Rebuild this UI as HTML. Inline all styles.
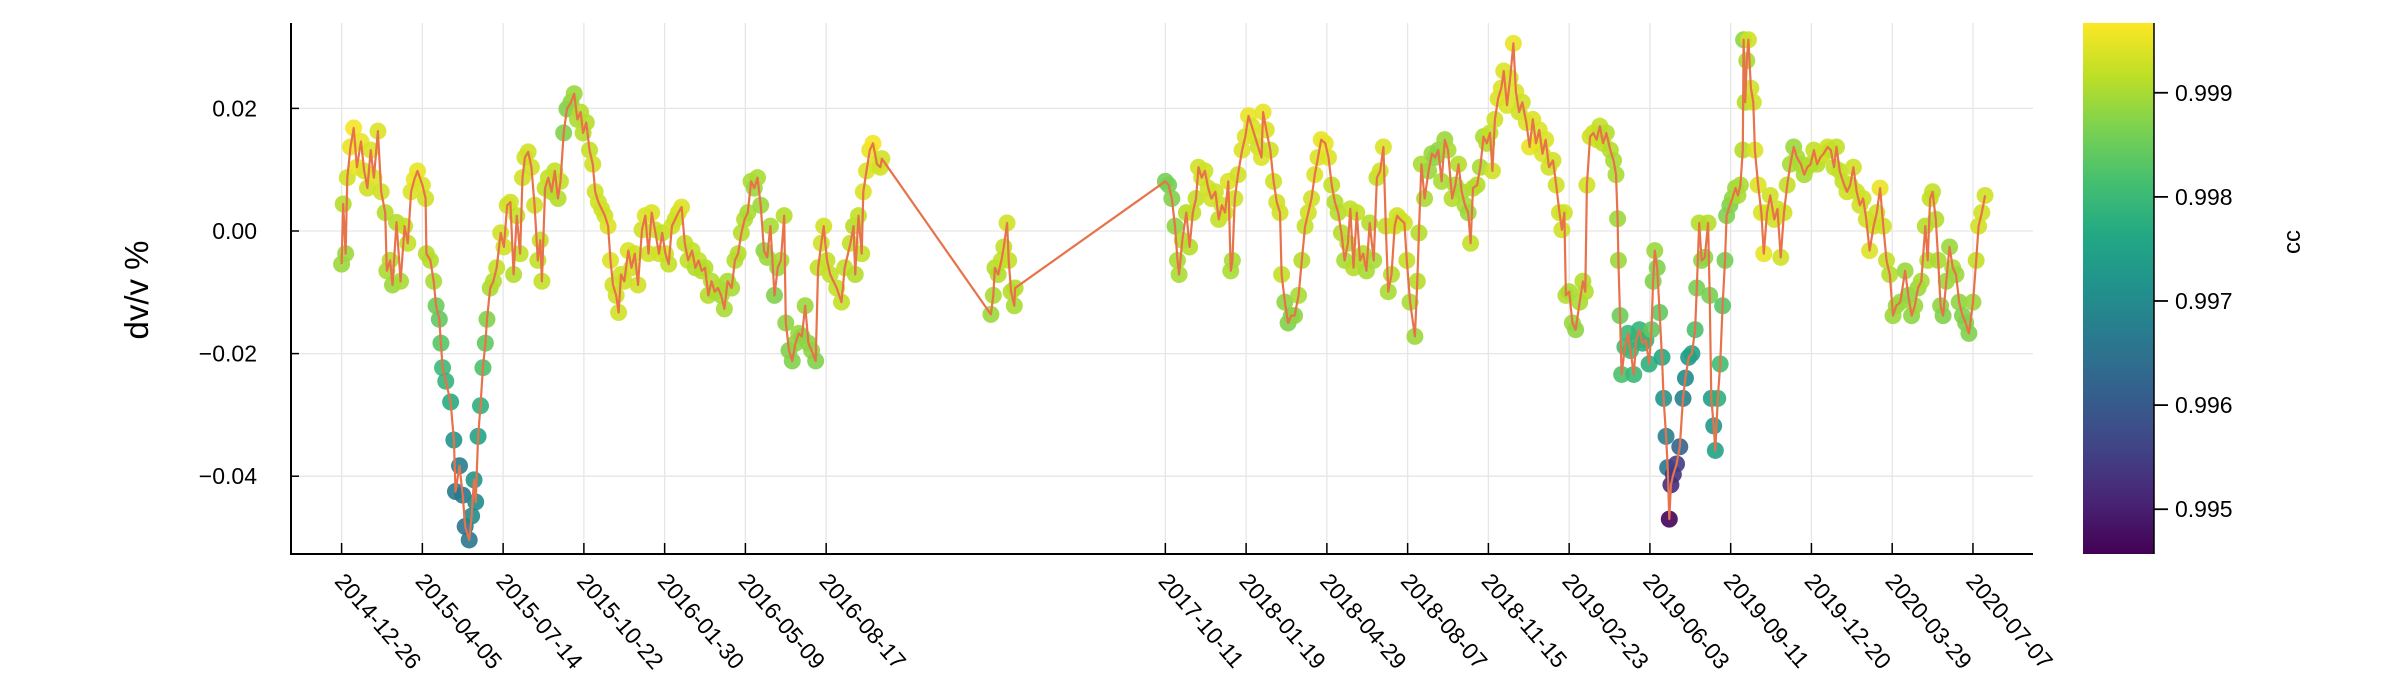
<!DOCTYPE html>
<html><head><meta charset="utf-8"><style>
html,body{margin:0;padding:0;background:#fff;}
svg{display:block;font-family:"Liberation Sans","DejaVu Sans",sans-serif;}
</style></head><body>
<svg id="chart" width="2400" height="700" viewBox="0 0 2400 700" xmlns="http://www.w3.org/2000/svg">
<defs><linearGradient id="vir" x1="0" y1="1" x2="0" y2="0">
<stop offset="0" stop-color="#440154"/><stop offset="0.1" stop-color="#482475"/><stop offset="0.2" stop-color="#414487"/><stop offset="0.3" stop-color="#355f8d"/><stop offset="0.4" stop-color="#2a788e"/><stop offset="0.5" stop-color="#21918c"/><stop offset="0.6" stop-color="#22a884"/><stop offset="0.7" stop-color="#44bf70"/><stop offset="0.8" stop-color="#7ad151"/><stop offset="0.9" stop-color="#bddf26"/><stop offset="1" stop-color="#fde725"/>
</linearGradient></defs>
<g id="grid"></g>
<g id="marks"></g>
<g id="axes"></g>
<text x="0" y="0" transform="translate(148,290) rotate(-90)" text-anchor="middle" font-size="33">dv/v %</text>
<rect x="2083" y="23" width="71" height="531" fill="url(#vir)"/>
<line x1="2154" y1="23" x2="2154" y2="554" stroke="#000" stroke-width="1.5"/>
<g id="cbticks"></g>
<text transform="translate(2300,242) rotate(-90)" text-anchor="middle" font-size="24">cc</text>
</svg>
<script>
const startDate = "2014-12-26";
const xTickLabels = ["2014-12-26","2015-04-05","2015-07-14","2015-10-22","2016-01-30","2016-05-09","2016-08-17","2017-10-11","2018-01-19","2018-04-29","2018-08-07","2018-11-15","2019-02-23","2019-06-03","2019-09-11","2019-12-20","2020-03-29","2020-07-07"];
const yTicks = [0.02, 0.00, -0.02, -0.04];
const yTickLabels = ["0.02","0.00","\u22120.02","\u22120.04"];
const ccTicks = [0.999, 0.998, 0.997, 0.996, 0.995];
const ccTickLabels = ["0.999","0.998","0.997","0.996","0.995"];
const days = [0,2,5,7,11,15,19,24,28,32,36,40,45,49,54,56,60,63,68,73,78,82,86,90,94,100,104,105,110,114,117,121,123,125,129,135,139,141,146,150,153,158,161,164,166,169,172,175,178,180,184,188,192,197,201,205,209,213,217,221,224,227,231,235,239,243,246,248,252,256,260,264,268,271,275,279,284,288,292,296,299,303,307,311,314,318,322,326,330,333,336,340,343,346,350,355,359,363,367,372,376,380,384,388,393,397,401,405,409,413,417,421,425,429,434,438,442,446,450,454,458,462,466,470,474,478,483,487,491,495,499,503,507,511,515,519,523,527,531,536,540,544,548,550,554,558,562,566,570,574,578,582,587,590,594,597,601,605,613,619,623,630,634,636,640,644,646,650,654,658,663,667,669,
804,807,809,813,817,820,824,826,829,833,834,
1020,1024,1028,1032,1035,1037,1041,1046,1050,1054,1058,1061,1065,1069,1073,1077,1082,1086,1090,1094,1098,1101,1103,1106,1110,1115,1119,1123,1127,1131,1135,1139,1141,1145,1150,1154,1158,1162,1164,1168,1172,1176,1180,1185,1189,1193,1197,1201,1205,1209,1213,1218,1222,1226,1230,1234,1238,1242,1246,1249,1253,1257,1261,1265,1269,1273,1278,1282,1286,1290,1293,1296,1300,1304,1307,1311,1316,1319,1323,1329,1332,1334,1337,1341,1346,1350,1354,1358,1362,1366,1370,1375,1379,1383,1387,1391,1395,1398,1401,1406,1410,1414,1418,1422,1425,1428,1432,1436,1439,1443,1447,1451,1454,1458,1462,1467,1471,1475,1479,1483,1487,1491,1495,1500,1504,1508,1511,1514,1516,1520,1524,1528,1533,1537,1540,1542,1546,1550,1554,1558,1562,1566,1571,1575,1578,1580,1581,1583,1585,1589,1593,1596,1600,1603,1607,1611,1615,1619,1622,1624,1626,1629,1632,1635,1637,1640,1642,1644,1646,1649,1653,1657,1661,1664,1668,1672,1676,1678,1681,1684,1688,1692,1694,1696,1699,1701,1704,1707,1710,1713,1715,1719,1722,1726,1729,1732,1735,1736,1738,1740,1742,1745,1748,1750,1754,1758,1761,1765,1769,1774,1778,1782,1786,1790,1794,1798,1802,1807,1811,1815,1819,1823,1827,1831,1835,1840,1844,1848,1851,1855,1859,1864,1868,1872,1876,1880,1884,1888,1892,1897,1901,1905,1909,1913,1917,1921,1925,1930,1936,1940,1944,1948,1952,1956,1961,1964,1967,1970,1974,1977,1980,1983,1987,1991,1995,1999,2003,2007,2011,2015,2020,2024,2027,2031,2035];
const dvv = [-0.0054,0.0044,-0.0037,0.0087,0.0137,0.0168,0.0104,0.0146,0.0098,0.007,0.0132,0.0087,0.0163,0.0064,0.003,-0.0065,-0.0048,-0.0088,0.0014,-0.0082,0.0008,-0.002,0.0064,0.0084,0.0098,0.0075,0.0053,-0.0037,-0.0048,-0.0082,-0.0122,-0.0144,-0.0183,-0.0223,-0.0245,-0.0279,-0.0341,-0.0425,-0.0383,-0.0431,-0.0482,-0.0504,-0.0465,-0.0406,-0.0442,-0.0335,-0.0285,-0.0223,-0.0183,-0.0144,-0.0093,-0.0082,-0.006,-0.0003,-0.0026,0.0042,0.0047,-0.0071,0.0025,-0.0037,0.0087,0.012,0.0129,0.0104,0.0042,-0.0048,-0.0015,-0.0082,0.007,0.0087,0.0064,0.0098,0.0053,0.0081,0.016,0.0199,0.021,0.0224,0.0182,0.0194,0.016,0.0177,0.0132,0.0109,0.0064,0.0047,0.0036,0.0025,0.0008,-0.0048,-0.0088,-0.0105,-0.0133,-0.0071,-0.0082,-0.0032,-0.006,-0.0037,-0.0088,0.0002,0.0025,-0.0037,0.003,0.0002,-0.0037,-0.0003,-0.0037,-0.0054,0.0008,0.0019,0.003,0.0039,-0.002,-0.0048,-0.0032,-0.006,-0.0048,-0.0065,-0.006,-0.0105,-0.0082,-0.0099,-0.0093,-0.0105,-0.0127,-0.0082,-0.0093,-0.0048,-0.0037,-0.0003,0.0019,0.003,0.0081,0.007,0.0087,0.0042,-0.0032,-0.0043,0.0008,-0.0105,-0.006,-0.0048,0.0025,-0.015,-0.0195,-0.0212,-0.0183,-0.0167,-0.0172,-0.0122,-0.0183,-0.0195,-0.0212,-0.006,-0.002,0.0008,-0.0048,-0.0071,-0.0093,-0.0116,-0.006,-0.002,0.0008,-0.0071,0.0025,-0.0037,0.0064,0.0098,0.0132,0.0143,0.0109,0.0104,0.0118,
-0.0136,-0.0105,-0.006,-0.0071,-0.0048,-0.0026,0.0013,-0.0048,-0.0099,-0.0122,-0.0093,
0.0081,0.0075,0.0053,0.0008,-0.0048,-0.0071,-0.0015,0.003,-0.0026,0.003,0.0053,0.0104,0.0087,0.0098,0.007,0.0053,0.0064,0.0019,0.0042,0.003,0.0081,-0.0065,-0.0048,0.0053,0.0092,0.0132,0.0154,0.0188,0.0171,0.0154,0.0137,0.012,0.0194,0.0165,0.0132,0.0081,0.0047,0.003,-0.0071,-0.0116,-0.015,-0.0138,-0.0138,-0.0105,-0.0048,0.0008,0.003,0.0053,0.0092,0.012,0.0149,0.0143,0.012,0.0075,0.0047,0.003,-0.0003,-0.0048,-0.002,0.0036,-0.006,0.003,-0.0048,-0.0037,-0.0065,0.0013,-0.0048,0.0087,0.0098,0.0137,0.0008,-0.0099,-0.0071,0.0008,0.0025,0.0019,0.0013,-0.0048,-0.0116,-0.0172,-0.0082,-0.0003,0.0109,0.0053,0.0098,0.0126,0.012,0.0132,0.0081,0.0149,0.0132,0.0053,0.0075,0.0109,0.0064,0.0042,0.003,-0.002,0.007,0.0075,0.0104,0.0154,0.0143,0.016,0.0098,0.0182,0.0216,0.0233,0.0261,0.0205,0.025,0.0306,0.0227,0.0194,0.021,0.0177,0.0137,0.0182,0.0143,0.0165,0.0126,0.0149,0.0104,0.0115,0.0075,0.003,0.0002,0.003,-0.0105,-0.0099,-0.015,-0.0161,-0.0116,-0.0082,-0.0099,0.0075,0.0154,0.016,0.0149,0.0171,0.0143,0.016,0.0132,0.0115,0.0092,0.002,-0.0048,-0.0138,-0.0234,-0.0189,-0.0167,-0.0195,-0.0234,-0.0178,-0.0161,-0.0183,-0.0178,-0.0217,-0.0161,-0.0082,-0.0032,-0.006,-0.0133,-0.0206,-0.0273,-0.0335,-0.0386,-0.047,-0.0414,-0.0397,-0.038,-0.0352,-0.0273,-0.024,-0.0206,-0.02,-0.0161,-0.0093,0.0013,-0.0048,-0.0043,0.0013,-0.0105,-0.0273,-0.0318,-0.0358,-0.0273,-0.0217,-0.0122,-0.0048,0.0025,0.0042,0.0053,0.007,0.0058,0.0075,0.0132,0.0312,0.021,0.0278,0.0312,0.0233,0.021,0.0132,0.0075,0.003,-0.0037,0.003,0.0058,0.0019,0.0036,-0.0043,0.003,0.0075,0.0109,0.0137,0.012,0.0109,0.0092,0.0104,0.0109,0.0132,0.0109,0.012,0.0126,0.0137,0.0132,0.0104,0.0137,0.0098,0.0081,0.0064,0.0075,0.0104,0.0064,0.0042,0.0053,0.0019,-0.0032,0.0008,0.003,0.007,0.0008,-0.0048,-0.0071,-0.0138,-0.0122,-0.0116,-0.0065,-0.0105,-0.0138,-0.0122,-0.0093,-0.0082,0.0008,-0.0048,0.0053,0.0064,0.0019,-0.0048,-0.0122,-0.0138,-0.0082,-0.0026,-0.006,-0.0071,-0.0116,-0.0138,-0.015,-0.0167,-0.0116,-0.0048,0.0008,0.003,0.0058];
const cc = [9989,9991,9989,9993,9995,9996,9995,9995,9994,9993,9994,9994,9994,9993,9991,9990,9991,9989,9991,9990,9992,9992,9994,9995,9995,9994,9993,9991,9991,9990,9985,9984,9983,9980,9979,9977,9972,9966,9967,9966,9965,9966,9970,9972,9970,9975,9978,9982,9984,9987,9990,9991,9992,9993,9993,9993,9993,9991,9992,9992,9993,9993,9993,9993,9993,9992,9992,9992,9992,9992,9991,9992,9991,9992,9987,9987,9988,9989,9990,9991,9991,9991,9992,9993,9993,9993,9993,9993,9994,9994,9993,9993,9993,9993,9993,9994,9993,9993,9993,9993,9994,9993,9994,9993,9993,9992,9993,9992,9993,9993,9993,9994,9992,9992,9992,9991,9992,9991,9991,9991,9991,9990,9991,9990,9990,9990,9990,9991,9991,9991,9991,9990,9990,9989,9990,9989,9988,9989,9990,9987,9989,9990,9991,9988,9987,9987,9988,9989,9988,9989,9988,9988,9987,9992,9993,9993,9992,9992,9992,9992,9992,9992,9991,9991,9992,9992,9994,9994,9995,9996,9994,9993,9993,
9989,9990,9991,9991,9992,9992,9993,9992,9991,9990,9991,
9986,9986,9987,9988,9990,9990,9991,9991,9991,9992,9992,9993,9993,9993,9993,9993,9993,9992,9993,9993,9994,9990,9990,9993,9993,9994,9994,9995,9994,9994,9993,9994,9995,9994,9993,9993,9993,9993,9992,9988,9987,9987,9988,9990,9991,9992,9993,9993,9994,9994,9995,9995,9994,9992,9991,9991,9991,9990,9991,9992,9991,9992,9991,9991,9990,9991,9990,9992,9993,9994,9992,9990,9991,9993,9993,9993,9993,9992,9990,9989,9991,9991,9990,9990,9989,9989,9988,9988,9990,9989,9990,9991,9990,9991,9990,9990,9989,9992,9991,9991,9990,9990,9991,9992,9993,9993,9994,9994,9994,9994,9994,9995,9994,9993,9993,9994,9995,9994,9995,9994,9994,9994,9993,9993,9993,9993,9993,9993,9991,9990,9989,9988,9990,9991,9991,9993,9993,9993,9993,9992,9992,9991,9991,9990,9990,9989,9989,9985,9982,9981,9980,9980,9980,9979,9979,9978,9979,9978,9984,9987,9989,9987,9984,9976,9972,9968,9966,9946,9952,9953,9955,9962,9968,9970,9973,9975,9982,9986,9991,9988,9988,9991,9986,9974,9973,9975,9978,9981,9983,9986,9987,9987,9988,9989,9990,9990,9991,9988,9991,9990,9993,9993,9993,9994,9994,9994,9995,9993,9993,9993,9993,9993,9993,9992,9990,9989,9990,9990,9990,9991,9991,9992,9991,9992,9993,9993,9992,9992,9992,9992,9992,9993,9992,9993,9993,9993,9993,9993,9994,9993,9993,9995,9993,9992,9991,9989,9989,9989,9989,9988,9988,9989,9989,9990,9991,9991,9992,9992,9991,9990,9988,9987,9989,9989,9990,9989,9988,9987,9987,9987,9989,9992,9993,9993,9993];

const NS = "http://www.w3.org/2000/svg";
const X0 = 341.6, PXDAY = 0.8076, Y0 = 231, PXVAL = 6130;
const CCMIN = 0.99457, CCMAX = 0.99967, CBTOP = 23, CBBOT = 554;
const t0 = Date.UTC(2014, 11, 26);
function dayOf(s){ const p = s.split("-").map(Number); return Math.round((Date.UTC(p[0], p[1]-1, p[2]) - t0)/86400000); }
function xScale(d){ return X0 + d*PXDAY; }
function yScale(v){ return Y0 - v*PXVAL; }
function ccScale(c){ return CBBOT - (c - CCMIN)/(CCMAX - CCMIN)*(CBBOT - CBTOP); }
const vir = ["#440154","#482475","#414487","#355f8d","#2a788e","#21918c","#22a884","#44bf70","#7ad151","#bddf26","#fde725"];
function hex(h){ return [1,3,5].map(i=>parseInt(h.substr(i,2),16)); }
function colorOf(c){
  let t = (c - CCMIN)/(CCMAX - CCMIN); t = Math.max(0, Math.min(1, t));
  const f = t*10, i = Math.min(9, Math.floor(f)), r = f - i;
  const a = hex(vir[i]), b = hex(vir[i+1]);
  return "rgb(" + a.map((v,k)=>Math.round(v + (b[k]-v)*r)).join(",") + ")";
}
function mk(tag, attrs, parent){ const e = document.createElementNS(NS, tag); for (const k in attrs) e.setAttribute(k, attrs[k]); parent.appendChild(e); return e; }

const grid = document.getElementById("grid"), axes = document.getElementById("axes"), marks = document.getElementById("marks"), cbt = document.getElementById("cbticks");
yTicks.forEach((v, i) => {
  const y = yScale(v);
  const g = mk("line", {x1:291, x2:2033, y1:y, y2:y, stroke:"#e6e6e6", "stroke-width":1.3}, grid);
  
  
  const tk = mk("line", {x1:291, x2:299, y1:y, y2:y, stroke:"#000", "stroke-width":1.5}, axes);
  
  
  const t = mk("text", {x:257, y:y+8, "text-anchor":"end", "font-size":23}, axes);
  t.textContent = yTickLabels[i];
  
  
});
xTickLabels.forEach(s => {
  const x = xScale(dayOf(s));
  const g = mk("line", {x1:x, x2:x, y1:23, y2:554, stroke:"#e6e6e6", "stroke-width":1.3}, grid);
  
  
  const tk = mk("line", {x1:x, x2:x, y1:554, y2:543, stroke:"#000", "stroke-width":1.5}, axes);
  
  
  const t = mk("text", {x:0, y:0, "font-size":23, transform:"translate(" + (x-8) + ",582) rotate(49)"}, axes);
  t.textContent = s;
  
  
});
const ax1 = mk("line", {x1:291, x2:291, y1:23, y2:554.5, stroke:"#000", "stroke-width":2}, axes);


const ax2 = mk("line", {x1:290, x2:2033, y1:554, y2:554, stroke:"#000", "stroke-width":2}, axes);


days.forEach((d, i) => {
  const c = mk("circle", {cx:xScale(d), cy:yScale(dvv[i]), r:8.5, fill:colorOf(cc[i]/10000), "fill-opacity":0.9}, marks);
  
  
});
const pts = days.map((d, i) => xScale(d).toFixed(1) + "," + yScale(dvv[i]).toFixed(1)).join(" ");
const pl = mk("polyline", {points:pts, fill:"none", stroke:"#e8724a", "stroke-width":2.2, "stroke-linejoin":"round"}, marks);


ccTicks.forEach((c, i) => {
  const y = ccScale(c);
  const tk = mk("line", {x1:2154, x2:2168, y1:y, y2:y, stroke:"#000", "stroke-width":1.8}, cbt);
  
  
  const t = mk("text", {x:2175, y:y+8, "font-size":23}, cbt);
  t.textContent = ccTickLabels[i];
  
  
});
</script>
</body></html>
